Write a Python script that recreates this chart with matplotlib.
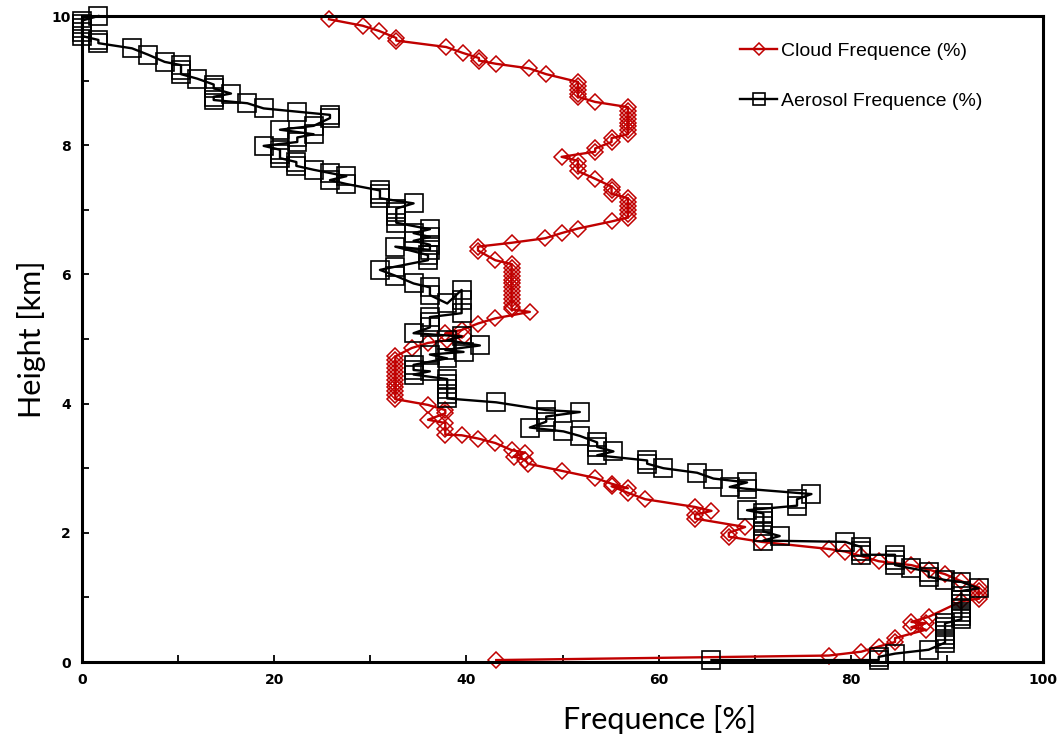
import matplotlib
matplotlib.use("Agg")
import matplotlib.pyplot as plt
from matplotlib.ticker import MultipleLocator

# cloud frequency profile (top -> bottom)
cloud_freq = [
    25.7, 29.2, 30.9, 32.7, 32.7, 37.9, 39.6, 41.3, 41.3, 43.1, 46.5, 48.3,
    51.6, 51.6, 51.6, 51.6, 51.6, 53.4,
    56.8, 56.8, 56.8, 56.8, 56.8, 56.8, 56.8, 56.8, 55.1, 55.1, 53.4, 53.4,
    49.9, 51.6, 51.6, 51.6, 53.4, 55.1, 55.1, 55.1,
    56.8, 56.8, 56.8, 56.8, 56.8, 56.8, 55.1, 51.6, 49.9, 48.2, 44.7, 41.2,
    41.2, 43.0,
    44.7, 44.7, 44.7, 44.7, 44.7, 44.7, 44.7, 44.7, 44.7, 44.7, 44.7, 44.7, 44.7,
    46.6, 43.0, 41.2, 39.5, 37.8, 39.7, 38.0, 36.0, 34.3,
    32.6, 32.6, 32.6, 32.6, 32.6, 32.6, 32.6, 32.6, 32.6, 32.6, 32.6, 32.6,
    36.0, 37.8, 37.8, 36.0, 37.8, 37.8, 37.8, 39.5, 41.2, 43.0, 44.7, 46.1,
    44.9, 46.1, 46.4, 49.9, 53.4, 55.1, 56.8, 55.1, 56.8, 58.6,
    63.8, 65.5, 63.8, 63.8, 69.0, 67.3, 67.3, 70.7,
    77.7, 79.4, 81.1, 82.9, 86.3, 88.1, 89.8, 91.5,
    93.3, 93.3, 93.3, 93.3, 91.5, 88.1, 86.3, 87.8, 86.3, 87.8,
    84.6, 84.6, 82.9, 81.1, 77.7, 43.1,
]
cloud_height = [
    9.95, 9.85, 9.77, 9.66, 9.62, 9.52, 9.43, 9.35, 9.31, 9.26, 9.19, 9.10,
    8.98, 8.92, 8.86, 8.80, 8.75, 8.67,
    8.59, 8.53, 8.47, 8.41, 8.35, 8.29, 8.23, 8.17, 8.11, 8.05, 7.95, 7.90,
    7.82, 7.76, 7.68, 7.60, 7.48, 7.36, 7.30, 7.25,
    7.18, 7.12, 7.06, 7.00, 6.94, 6.88, 6.82, 6.71, 6.64, 6.56, 6.49, 6.43,
    6.37, 6.22,
    6.16, 6.10, 6.04, 5.98, 5.92, 5.86, 5.80, 5.74, 5.68, 5.62, 5.56, 5.50, 5.46,
    5.42, 5.32, 5.24, 5.14, 5.09, 5.04, 4.98, 4.94, 4.86,
    4.73, 4.67, 4.61, 4.55, 4.49, 4.43, 4.37, 4.31, 4.25, 4.19, 4.13, 4.07,
    3.98, 3.90, 3.85, 3.75, 3.70, 3.60, 3.52, 3.51, 3.46, 3.39, 3.28, 3.24,
    3.18, 3.13, 3.07, 2.96, 2.85, 2.76, 2.69, 2.72, 2.62, 2.52,
    2.40, 2.34, 2.28, 2.22, 2.09, 2.00, 1.94, 1.86,
    1.75, 1.71, 1.64, 1.56, 1.50, 1.43, 1.36, 1.25,
    1.16, 1.10, 1.04, 0.98, 0.94, 0.70, 0.62, 0.60, 0.54, 0.50,
    0.37, 0.31, 0.24, 0.16, 0.10, 0.03,
]

# aerosol frequency profile
aerosol_freq = [
    1.7, 0.0, 0.0, 0.0, 0.0, 0.0, 1.7, 1.7, 5.2, 6.9, 8.6, 10.3, 10.3, 10.3,
    12.0, 13.7, 13.7, 15.5, 13.7, 13.7, 17.2, 18.9, 22.4, 25.8, 25.8,
    24.1, 20.6, 24.1, 22.4, 22.4, 18.9, 20.6, 20.6, 20.6, 22.3, 22.3, 24.1,
    25.8, 27.5, 25.8, 27.5, 31.0, 31.0, 31.0, 34.5, 32.7, 32.7, 32.7, 32.7,
    36.2, 34.5, 36.2, 34.5, 36.2, 36.2, 32.6, 36.0, 36.0, 32.6, 31.0, 32.6,
    34.5, 36.2, 36.2, 38.0, 39.5, 39.5, 39.5, 36.2, 36.2, 36.2, 34.5,
    39.5, 38.0, 41.4, 37.8, 39.7, 36.2, 38.0, 34.5, 34.5, 36.2, 34.5,
    38.0, 38.0, 38.0, 38.0, 38.0, 43.1,
    48.3, 51.8, 48.3, 48.3, 46.6, 50.1, 51.8, 53.6, 53.6, 55.3, 53.6,
    58.8, 58.8, 60.5, 64.0, 65.7, 69.2, 67.4, 69.2, 75.9, 74.4, 74.4,
    69.2, 70.9, 70.9, 70.9, 70.9, 70.9, 72.6, 70.9,
    79.4, 81.1, 81.1, 81.1, 84.6, 84.6, 84.6, 86.3, 88.1, 88.1, 89.8,
    91.5, 93.3, 91.5, 91.5, 91.5, 91.5, 91.5, 91.5, 91.5, 91.5,
    89.8, 89.8, 89.8, 89.8, 89.8, 89.8, 88.1, 84.6, 82.9, 82.9, 65.5,
]
aerosol_height = [
    10.00, 9.93, 9.87, 9.81, 9.75, 9.69, 9.63, 9.58, 9.50, 9.40, 9.29, 9.24, 9.16, 9.10,
    9.03, 8.94, 8.88, 8.80, 8.75, 8.70, 8.65, 8.57, 8.52, 8.47, 8.42,
    8.30, 8.24, 8.17, 8.12, 8.05, 7.99, 7.93, 7.86, 7.80, 7.74, 7.68, 7.62,
    7.57, 7.52, 7.46, 7.40, 7.30, 7.24, 7.18, 7.10, 7.02, 6.96, 6.90, 6.80,
    6.70, 6.64, 6.58, 6.52, 6.46, 6.38, 6.43, 6.30, 6.22, 6.12, 6.07, 5.98,
    5.86, 5.80, 5.68, 5.55, 5.76, 5.60, 5.40, 5.34, 5.26, 5.18, 5.09,
    5.04, 4.98, 4.90, 4.83, 4.80, 4.76, 4.70, 4.60, 4.52, 4.50, 4.45,
    4.38, 4.30, 4.22, 4.15, 4.08, 4.02,
    3.90, 3.87, 3.80, 3.72, 3.63, 3.57, 3.50, 3.40, 3.33, 3.26, 3.20,
    3.12, 3.07, 3.00, 2.93, 2.84, 2.78, 2.71, 2.68, 2.60, 2.52, 2.42,
    2.35, 2.30, 2.24, 2.18, 2.10, 2.02, 1.95, 1.88,
    1.86, 1.78, 1.72, 1.66, 1.66, 1.58, 1.50, 1.45, 1.40, 1.32, 1.27,
    1.24, 1.14, 1.10, 1.02, 0.96, 0.90, 0.84, 0.78, 0.72, 0.66,
    0.60, 0.54, 0.48, 0.42, 0.36, 0.30, 0.19, 0.13, 0.08, 0.03, 0.03,
]

red = "#C00000"

fig = plt.figure(figsize=(10.64, 7.42), dpi=100)
ax = fig.add_axes([0.0771, 0.1078, 0.9032, 0.8706])

ax.plot(cloud_freq, cloud_height, color=red, lw=1.7, marker="D", ms=8.5,
        mfc="none", mec=red, mew=1.1, label="Cloud Frequence (%)",
        zorder=2, clip_on=False)
ax.plot(aerosol_freq, aerosol_height, color="black", lw=1.7, marker="s", ms=12.5,
        mfc="none", mec="black", mew=1.2, label="Aerosol Frequence (%)",
        zorder=3, clip_on=False)

ax.set_xlim(0, 100)
ax.set_ylim(0, 10)
ax.xaxis.set_major_locator(MultipleLocator(20))
ax.xaxis.set_minor_locator(MultipleLocator(10))
ax.yaxis.set_major_locator(MultipleLocator(2))
ax.yaxis.set_minor_locator(MultipleLocator(1))
ax.tick_params(which="both", direction="in", length=5, width=1.3, pad=8,
               labelsize=10)
for lab in ax.get_xticklabels() + ax.get_yticklabels():
    lab.set_fontweight("bold")
for s in ax.spines.values():
    s.set_linewidth(2.2)
    s.set_zorder(4)

ax.set_xlabel("Frequence [%]", fontsize=22, family="Lato")
ax.xaxis.set_label_coords(0.601, -0.066)
ax.set_ylabel("Height [km]", fontsize=22, family="Lato", labelpad=4)

ax.legend(loc="upper left", bbox_to_anchor=(0.685, 0.959), frameon=False,
          borderpad=0, borderaxespad=0,
          prop={"family": "Liberation Sans", "size": 14}, labelspacing=1.65,
          handlelength=1.9, handletextpad=0.2, markerscale=0.7)

fig.savefig("out.png", dpi=100)
